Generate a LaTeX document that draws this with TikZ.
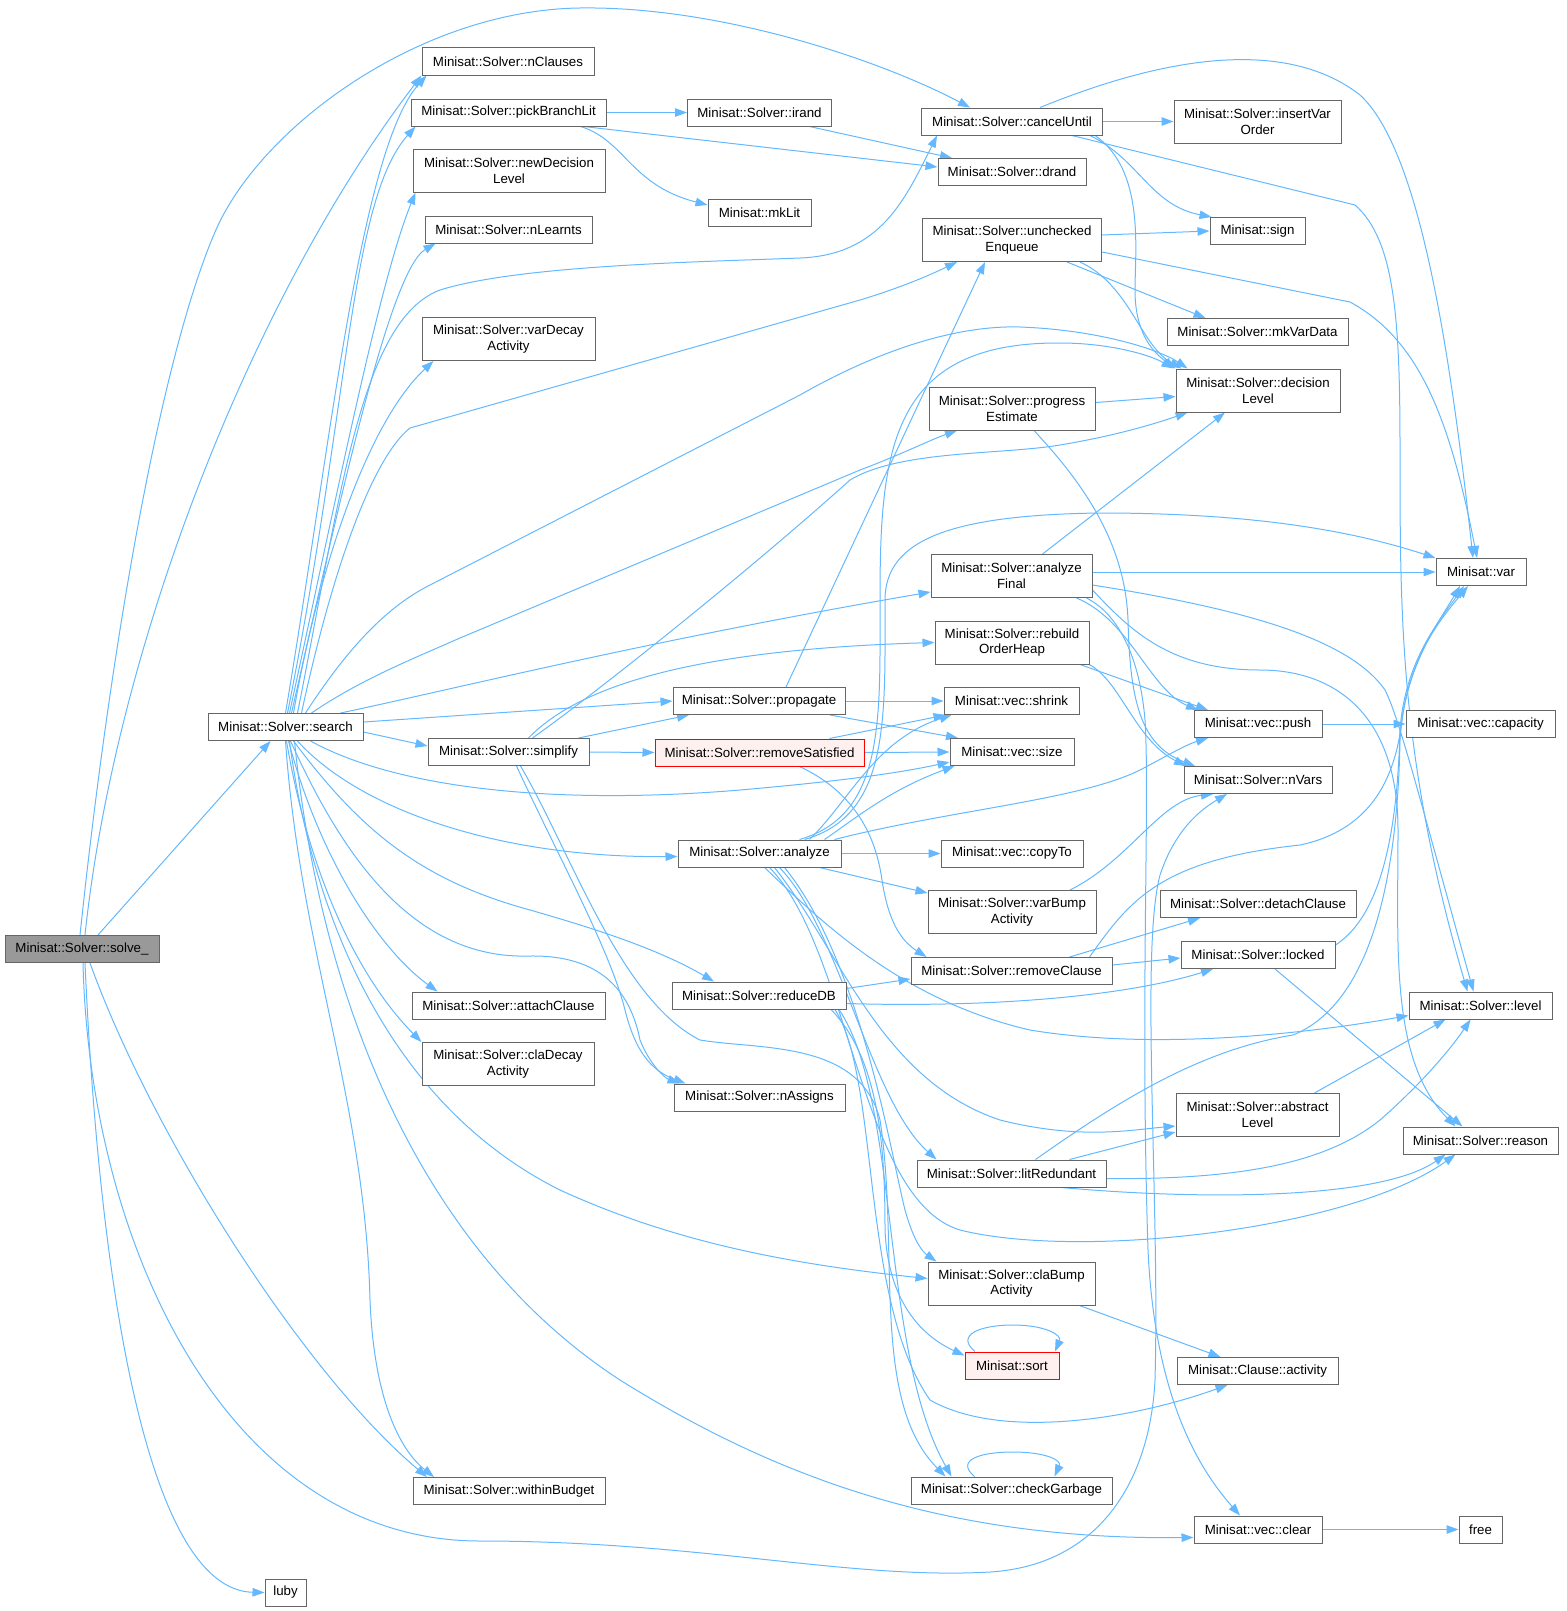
\documentclass[tikz,border=0pt]{standalone}
\usepackage{fontspec}
\setmainfont{Liberation Sans}
\usetikzlibrary{arrows.meta, backgrounds}

\definecolor{callblue}{HTML}{63B8FF}
\definecolor{boxgray}{HTML}{666666}
\definecolor{rootgray}{HTML}{999999}
\definecolor{hiddenred}{HTML}{FF0000}
\definecolor{hiddenfill}{HTML}{FFF0F0}

\begin{document}
\begin{tikzpicture}[x=1pt, y=-1pt,
    fn/.style={draw=boxgray, fill=white, line width=1pt, inner sep=0pt,
        minimum height=27pt, minimum width=#1pt, align=center,
        font=\fontsize{13.3}{15.6}\selectfont},
    fn2/.style={fn=#1, minimum height=43pt},
    root/.style={fn=#1, fill=rootgray},
    trunc/.style={fn=#1, draw=hiddenred, fill=hiddenfill},
    call/.style={draw=callblue, line width=1pt, -{Triangle[length=12pt, width=8.5pt]}}]

        \useasboundingbox (0,0) rectangle (1566,1611);

        % ROOT
        \node[root=154] (SOLVE) at (82,949) {Minisat::Solver::solve\_};
        \node[fn=155] (SEARCH) at (285.5,727) {Minisat::Solver::search};
        \node[fn=41] (LUBY) at (285.5,1592.5) {luby};

        % COLUMN 2
        \node[fn=172] (NCLAUSES) at (508,61.5) {Minisat::Solver::nClauses};
        \node[fn=195] (PICK) at (508.5,112.5) {Minisat::Solver::pickBranchLit};
        \node[fn2=192] (NEWDL) at (509,170.5) {Minisat::Solver::newDecision\\Level};
        \node[fn=167] (NLEARNTS) at (508.5,229.5) {Minisat::Solver::nLearnts};
        \node[fn2=173] (VARDECAY) at (508.5,339) {Minisat::Solver::varDecay\\Activity};
        \node[fn=161] (SIMPLIFY) at (508.5,752) {Minisat::Solver::simplify};
        \node[fn=193] (ATTACH) at (508.5,1005.5) {Minisat::Solver::attachClause};
        \node[fn2=172] (CLADECAY) at (508,1064) {Minisat::Solver::claDecay\\Activity};
        \node[fn=192] (BUDGET) at (509,1491) {Minisat::Solver::withinBudget};

        % COLUMN 3
        \node[fn=144] (IRAND) at (759.5,112.5) {Minisat::Solver::irand};
        \node[fn=103] (MKLIT) at (759.5,213) {Minisat::mkLit};
        \node[fn=172] (PROPAGATE) at (759,701) {Minisat::Solver::propagate};
        \node[trunc=209] (REMSAT) at (759.5,752.5) {Minisat::Solver::removeSatisfied};
        \node[fn=163] (ANALYZE) at (759.5,853.5) {Minisat::Solver::analyze};
        \node[fn=174] (REDUCEDB) at (759,995.5) {Minisat::Solver::reduceDB};
        \node[fn=171] (NASSIGNS) at (759.5,1097.5) {Minisat::Solver::nAssigns};

        % COLUMN 4
        \node[fn=181] (CANCEL) at (1012,121.5) {Minisat::Solver::cancelUntil};
        \node[fn=148] (DRAND) at (1012,172) {Minisat::Solver::drand};
        \node[fn2=179] (UNCHECKED) at (1012,240) {Minisat::Solver::unchecked\\Enqueue};
        \node[fn2=166] (PROGRESS) at (1012,408.5) {Minisat::Solver::progress\\Estimate};
        \node[fn2=161] (ANAFINAL) at (1011.5,576) {Minisat::Solver::analyze\\Final};
        \node[fn2=154] (REBUILD) at (1012,642.5) {Minisat::Solver::rebuild\\OrderHeap};
        \node[fn=135] (SHRINK) at (1011.5,701) {Minisat::vec::shrink};
        \node[fn=124] (SIZE) at (1012,752) {Minisat::vec::size};
        \node[fn=142] (COPYTO) at (1012,853.5) {Minisat::vec::copyTo};
        \node[fn2=168] (VARBUMP) at (1012,912) {Minisat::Solver::varBump\\Activity};
        \node[fn=201] (REMCLAUSE) at (1011.5,971) {Minisat::Solver::removeClause};
        \node[fn=189] (LITRED) at (1011.5,1173.5) {Minisat::Solver::litRedundant};
        \node[fn2=167] (CLABUMP) at (1011.5,1283.5) {Minisat::Solver::claBump\\Activity};
        \node[trunc=94] (SORT) at (1012,1365.5) {Minisat::sort};
        \node[fn=201] (CHECKGB) at (1011.5,1490.5) {Minisat::Solver::checkGarbage};

        % COLUMN 5
        \node[fn2=167] (INSERTVO) at (1257.5,121.5) {Minisat::Solver::insertVar\\Order};
        \node[fn=95] (SIGN) at (1257.5,231) {Minisat::sign};
        \node[fn=181] (MKVARDATA) at (1257.5,332) {Minisat::Solver::mkVarData};
        \node[fn2=164] (DECLEVEL) at (1258,390.5) {Minisat::Solver::decision\\Level};
        \node[fn=128] (PUSH) at (1258,724) {Minisat::vec::push};
        \node[fn=148] (NVARS) at (1258,780) {Minisat::Solver::nVars};
        \node[fn=196] (DETACH) at (1258,904) {Minisat::Solver::detachClause};
        \node[fn=154] (LOCKED) at (1258,955) {Minisat::Solver::locked};
        \node[fn2=163] (ABSLEVEL) at (1257.5,1115) {Minisat::Solver::abstract\\Level};
        \node[fn=161] (ACTIVITY) at (1257.5,1371) {Minisat::Clause::activity};
        \node[fn=128] (CLEAR) at (1258,1529.5) {Minisat::vec::clear};

        % COLUMN 6
        \node[fn=90] (VAR) at (1481,572) {Minisat::var};
        \node[fn=149] (CAPACITY) at (1480.5,724) {Minisat::vec::capacity};
        \node[fn=143] (LEVEL) at (1480.5,1005.5) {Minisat::Solver::level};
        \node[fn=155] (REASON) at (1480.5,1140.5) {Minisat::Solver::reason};
        \node[fn=43] (FREE) at (1480.5,1529.5) {free};

        \begin{scope}[on background layer]

        % SOLVE_
        \draw[call] ([xshift=16pt]SOLVE.north) -- ([xshift=-15pt]SEARCH.south);
        \draw[call] ([xshift=3pt]SOLVE.north) .. controls (115,650) and (250,300) .. (NCLAUSES.south west);
        \draw[call] ([xshift=-2pt]SOLVE.north) .. controls (110,650) and (160,360) .. (215,232)
            .. controls (260,127) and (420,10) .. (580,8) .. controls (720,6) and (880,60) .. ([xshift=-42pt]CANCEL.north);
        \draw[call] ([xshift=8pt]SOLVE.south) .. controls (150,1130) and (300,1370) .. ([xshift=-82pt]BUDGET.north);
        \draw[call] ([xshift=3pt]SOLVE.south) .. controls (100,1300) and (150,1590) .. (LUBY.west);
        \draw[call] ([xshift=1pt]SOLVE.south) .. controls (90,1250) and (230,1541) .. (480,1541)
            .. controls (700,1541) and (850,1580) .. (990,1572) .. controls (1100,1565) and (1150,1480) .. (1155,1380)
            .. controls (1160,1200) and (1140,950) .. (1160,875) .. controls (1175,830) and (1200,810) .. ([xshift=-31pt]NVARS.south);

        % SEARCH
        \draw[call] (SEARCH.north) .. controls (330,450) and (360,150) .. ([xshift=5pt]NCLAUSES.south west);
        \draw[call] ([xshift=2pt]SEARCH.north) .. controls (350,400) and (350,200) .. ([xshift=5pt]PICK.south west);
        \draw[call] ([xshift=4pt]SEARCH.north) .. controls (340,480) and (380,280) .. ([xshift=3pt]NEWDL.south west);
        \draw[call] ([xshift=6pt]SEARCH.north) .. controls (340,500) and (390,270) .. ([xshift=11pt]NLEARNTS.south west);
        \draw[call] ([xshift=8pt]SEARCH.north) .. controls (320,560) and (370,420) .. ([xshift=12pt]VARDECAY.south west);
        \draw[call] ([xshift=12pt]SEARCH.north) .. controls (340,500) and (360,320) .. (440,290)
            .. controls (520,265) and (700,262) .. (800,258) .. controls (880,255) and (905,200) .. ([xshift=-75pt]CANCEL.south);
        \draw[call] ([xshift=16pt]SEARCH.north) .. controls (330,580) and (370,460) .. (410,428) -- (860,300)
            .. controls (900,288) and (930,275) .. ([xshift=-55pt]UNCHECKED.south);
        \draw[call] ([xshift=20pt]SEARCH.north) .. controls (340,660) and (380,610) .. (430,585) -- (800,395)
            .. controls (870,355) and (950,325) .. (1020,327) .. controls (1100,330) and (1160,350) .. ([xshift=12pt]DECLEVEL.north west);
        \draw[call] ([xshift=26pt]SEARCH.north) .. controls (360,680) and (410,660) .. (460,638) -- (860,470)
            .. controls (900,455) and (930,440) .. ([xshift=-55pt]PROGRESS.south);
        \draw[call] ([xshift=55pt]SEARCH.north) .. controls (450,690) and (650,640) .. ([yshift=-16pt]ANAFINAL.west);
        \draw[call] ([yshift=5pt]SEARCH.east) -- (PROPAGATE.west);
        \draw[call] ([yshift=-5pt]SEARCH.east) -- ([yshift=6pt]SIMPLIFY.west);
        \draw[call] ([xshift=25pt]SEARCH.south) .. controls (400,790) and (560,805) .. (740,790)
            .. controls (820,783) and (890,775) .. ([yshift=-10pt]SIZE.west);
        \draw[call] ([xshift=12pt]SEARCH.south) .. controls (360,810) and (500,858) .. ([yshift=-3pt]ANALYZE.west);
        \draw[call] ([xshift=8pt]SEARCH.south) .. controls (360,830) and (420,880) .. (530,910)
            .. controls (600,930) and (660,950) .. ([xshift=-45pt]REDUCEDB.north);
        \draw[call] ([xshift=5pt]SEARCH.south) .. controls (340,850) and (410,960) .. (530,956)
            .. controls (600,955) and (630,990) .. (640,1040) .. controls (650,1065) and (665,1078) .. ([xshift=-80pt]NASSIGNS.north);
        \draw[call] ([xshift=3pt]SEARCH.south) .. controls (320,860) and (380,950) .. ([xshift=-71pt]ATTACH.north);
        \draw[call] ([xshift=1pt]SEARCH.south) .. controls (310,880) and (360,980) .. (CLADECAY.north west);
        \draw[call] (SEARCH.south) .. controls (300,950) and (365,1100) .. (370,1300)
            .. controls (374,1400) and (400,1450) .. ([xshift=-75pt]BUDGET.north);
        \draw[call] ([xshift=4pt]SEARCH.south) .. controls (310,900) and (380,1100) .. (560,1190)
            .. controls (680,1245) and (800,1265) .. ([yshift=5pt]CLABUMP.west);
        \draw[call] ([xshift=9pt]SEARCH.south) .. controls (320,1000) and (420,1250) .. (620,1380)
            .. controls (780,1480) and (950,1540) .. ([yshift=-8pt]CLEAR.west);

        % PICKBRANCHLIT, IRAND
        \draw[call] (PICK.east) -- (IRAND.west);
        \draw[call] ([xshift=75pt]PICK.south) -- ([yshift=5pt]DRAND.west);
        \draw[call] ([xshift=72pt]PICK.south) .. controls (625,140) and (630,185) .. ([yshift=8pt]MKLIT.west);
        \draw[call] ([xshift=50pt]IRAND.south) -- ([xshift=-60pt]DRAND.north);

        % CANCELUNTIL
        \draw[call] (CANCEL.east) -- (INSERTVO.west);
        \draw[call] ([xshift=28pt]CANCEL.north) .. controls (1120,75) and (1270,25) .. (1360,95)
            .. controls (1420,150) and (1450,350) .. ([xshift=-8pt]VAR.north);
        \draw[call] ([xshift=78pt]CANCEL.south) .. controls (1140,160) and (1150,205) .. ([xshift=2pt]SIGN.north west);
        \draw[call] ([xshift=83pt]CANCEL.south) .. controls (1145,170) and (1135,250) .. (1135,290)
            .. controls (1135,330) and (1150,350) .. (DECLEVEL.north west);
        \draw[call] ([xshift=60pt]CANCEL.south) -- (1355,205) .. controls (1395,240) and (1400,320) .. (1400,450)
            .. controls (1400,620) and (1400,760) .. ([xshift=-13pt]LEVEL.north);

        % UNCHECKEDENQUEUE
        \draw[call] ([yshift=5pt]UNCHECKED.east) -- (SIGN.west);
        \draw[call] ([yshift=-12pt]UNCHECKED.east) -- (1350,302) .. controls (1420,340) and (1450,420) .. ([xshift=-4pt]VAR.north);
        \draw[call] ([xshift=55pt]UNCHECKED.south) -- ([xshift=-52pt]MKVARDATA.north);
        \draw[call] ([xshift=68pt]UNCHECKED.south) .. controls (1130,285) and (1140,345) .. ([xshift=6pt]DECLEVEL.north west);

        % PROGRESSESTIMATE
        \draw[call] ([yshift=6pt]PROGRESS.east) -- ([yshift=-6pt]DECLEVEL.west);
        \draw[call] ([xshift=22pt]PROGRESS.south) .. controls (1080,480) and (1125,540) .. (1128,620)
            .. controls (1130,700) and (1140,745) .. ([xshift=-63pt]NVARS.north);

        % ANALYZEFINAL
        \draw[call] ([xshift=31pt]ANAFINAL.north) -- ([xshift=-33pt]DECLEVEL.south);
        \draw[call] ([yshift=4pt]ANAFINAL.east) -- (VAR.west);
        \draw[call] ([yshift=-9pt]ANAFINAL.east) .. controls (1250,610) and (1350,640) .. (1385,690)
            .. controls (1400,720) and (1420,800) .. ([xshift=-7pt]LEVEL.north);
        \draw[call] ([yshift=-14pt]ANAFINAL.east) .. controls (1130,630) and (1170,670) .. (1260,670)
            .. controls (1340,670) and (1398,720) .. (1398,830) .. controls (1398,950) and (1390,1060) .. ([xshift=-25pt]REASON.north);
        \draw[call] ([xshift=65pt]ANAFINAL.south) .. controls (1130,620) and (1150,690) .. ([xshift=-60pt]PUSH.north);
        \draw[call] ([xshift=75pt]ANAFINAL.south) .. controls (1120,615) and (1140,660) .. (1145,720)
            .. controls (1150,800) and (1140,1000) .. (1148,1250) .. controls (1155,1400) and (1200,1470) .. ([xshift=-18pt]CLEAR.north);

        % REBUILDORDERHEAP
        \draw[call] ([xshift=68pt]REBUILD.south) -- ([xshift=-50pt]PUSH.north);
        \draw[call] ([xshift=77pt]REBUILD.south) .. controls (1120,680) and (1135,740) .. ([xshift=-72pt]NVARS.north);

        % PROPAGATE
        \draw[call] ([xshift=27pt]PROPAGATE.north) -- ([xshift=-27pt]UNCHECKED.south);
        \draw[call] (PROPAGATE.east) -- (SHRINK.west);
        \draw[call] ([xshift=71pt]PROPAGATE.south) -- ([xshift=-54pt]SIZE.north);

        % REMOVESATISFIED
        \draw[call] (REMSAT.east) -- (SIZE.west);
        \draw[call] ([xshift=70pt]REMSAT.north) -- ([xshift=2pt]SHRINK.south west);
        \draw[call] ([xshift=40pt]REMSAT.south) .. controls (850,790) and (875,830) .. (882,880)
            .. controls (888,920) and (900,940) .. ([xshift=-85pt]REMCLAUSE.north);

        % ANALYZE
        \draw[call] (ANALYZE.east) -- (COPYTO.west);
        \draw[call] ([xshift=60pt]ANALYZE.south) -- ([yshift=-3pt]VARBUMP.north west);
        \draw[call] ([xshift=75pt]ANALYZE.north) .. controls (950,810) and (1080,800) .. (1140,770)
            .. controls (1165,757) and (1185,745) .. ([xshift=-50pt]PUSH.south);
        \draw[call] ([xshift=65pt]ANALYZE.north) .. controls (860,815) and (890,790) .. ([xshift=5pt]SIZE.south west);
        \draw[call] ([xshift=50pt]ANALYZE.north) .. controls (850,800) and (875,740) .. ([xshift=8pt]SHRINK.south west);
        \draw[call] ([xshift=40pt]ANALYZE.north) .. controls (885,815) and (880,720) .. (880,600)
            .. controls (880,450) and (890,342) .. (1060,343) .. controls (1110,343) and (1150,355) .. ([xshift=-2pt]DECLEVEL.north west);
        \draw[call] ([xshift=45pt]ANALYZE.north) .. controls (890,815) and (885,720) .. (885,600)
            .. controls (885,540) and (950,515) .. (1100,513) .. controls (1250,513) and (1350,530) .. (VAR.north west);
        \draw[call] ([xshift=5pt]ANALYZE.south) .. controls (820,920) and (900,1000) .. (1030,1030)
            .. controls (1150,1050) and (1300,1035) .. ([yshift=-10pt]LEVEL.west);
        \draw[call] ([xshift=10pt]ANALYZE.south) .. controls (850,950) and (860,1200) .. (960,1230)
            .. controls (1080,1260) and (1350,1230) .. ([xshift=-25pt]REASON.south);
        \draw[call] ([xshift=15pt]ANALYZE.south) .. controls (840,950) and (880,1080) .. (1000,1120)
            .. controls (1080,1140) and (1130,1130) .. ([yshift=-11pt]ABSLEVEL.west);
        \draw[call] ([xshift=20pt]ANALYZE.south) .. controls (840,930) and (870,1100) .. ([xshift=-75pt]LITRED.north);
        \draw[call] ([xshift=25pt]ANALYZE.south) .. controls (860,960) and (890,1150) .. (905,1210)
            .. controls (912,1235) and (920,1250) .. ([xshift=-75pt]CLABUMP.north);

        % REDUCEDB
        \draw[call] ([yshift=7pt]REDUCEDB.east) -- ([yshift=-8pt]REMCLAUSE.west);
        \draw[call] ([yshift=-8pt]REDUCEDB.east) .. controls (1000,1008) and (1130,995) .. ([xshift=-45pt]LOCKED.south);
        \draw[call] ([xshift=72pt]REDUCEDB.south) .. controls (880,1060) and (885,1150) .. (885,1230)
            .. controls (888,1300) and (920,1335) .. ([yshift=-4pt]SORT.north west);
        \draw[call] ([xshift=76pt]REDUCEDB.south) .. controls (880,1080) and (860,1300) .. (930,1400)
            .. controls (1000,1440) and (1130,1420) .. ([xshift=-30pt]ACTIVITY.south);
        \draw[call] ([xshift=80pt]REDUCEDB.south) .. controls (900,1100) and (880,1350) .. ([xshift=-60pt]CHECKGB.north);

        % SIMPLIFY
        \draw[call] ([xshift=70pt]SIMPLIFY.north) -- ([xshift=-70pt]PROPAGATE.south);
        \draw[call] (SIMPLIFY.east) -- (REMSAT.west);
        \draw[call] ([xshift=20pt]SIMPLIFY.north) .. controls (575,690) and (680,650) .. (REBUILD.west);
        \draw[call] ([xshift=24pt]SIMPLIFY.north) .. controls (600,690) and (750,570) .. (850,480)
            .. controls (900,450) and (1000,455) .. (1060,445) .. controls (1120,435) and (1160,422) .. ([xshift=12pt]DECLEVEL.south west);
        \draw[call] ([xshift=8pt]SIMPLIFY.south) .. controls (560,860) and (610,950) .. (625,1010)
            .. controls (635,1050) and (650,1070) .. ([xshift=-74pt]NASSIGNS.north);
        \draw[call] ([xshift=12pt]SIMPLIFY.south) .. controls (570,850) and (620,1000) .. (700,1040)
            .. controls (760,1050) and (860,1040) .. (880,1120) .. controls (900,1250) and (870,1400) .. ([xshift=-66pt]CHECKGB.north);

        % VARBUMP, REMOVECLAUSE, LOCKED
        \draw[call] ([xshift=58pt]VARBUMP.north) .. controls (1130,860) and (1160,800) .. ([xshift=-45pt]NVARS.south);
        \draw[call] ([xshift=58pt]REMCLAUSE.north) -- ([xshift=-58pt]DETACH.south);
        \draw[call] ([yshift=6pt]REMCLAUSE.east) -- ([yshift=-3pt]LOCKED.west);
        \draw[call] ([xshift=78pt]REMCLAUSE.north) .. controls (1130,900) and (1160,860) .. (1300,845)
            .. controls (1370,830) and (1395,780) .. (1402,720) .. controls (1410,660) and (1440,620) .. ([xshift=-21pt]VAR.south);
        \draw[call] ([yshift=10pt]LOCKED.east) .. controls (1390,910) and (1398,800) .. (1400,730)
            .. controls (1405,660) and (1440,620) .. ([xshift=-17pt]VAR.south);
        \draw[call] ([xshift=17pt]LOCKED.south) -- ([xshift=-18pt]REASON.north);

        % LITREDUNDANT, ABSTRACTLEVEL
        \draw[call] ([xshift=58pt]LITRED.north) -- ([yshift=-17pt]ABSLEVEL.west);
        \draw[call] ([xshift=24pt]LITRED.north) .. controls (1120,1100) and (1200,1050) .. (1293,1035)
            .. controls (1380,1000) and (1398,850) .. (1400,740) .. controls (1405,660) and (1440,620) .. ([xshift=-13pt]VAR.south);
        \draw[call] ([yshift=-5pt]LITRED.east) .. controls (1250,1180) and (1330,1160) .. (1380,1120)
            .. controls (1420,1085) and (1450,1050) .. ([xshift=-10pt]LEVEL.south);
        \draw[call] ([xshift=50pt]LITRED.south) .. controls (1200,1200) and (1380,1200) .. ([xshift=-35pt]REASON.south);
        \draw[call] ([xshift=57pt]ABSLEVEL.north) -- ([xshift=-35pt]LEVEL.south);

        % LEAVES
        \draw[call] ([xshift=68pt]CLABUMP.south) -- ([xshift=-37pt]ACTIVITY.north);
        \draw[call] (PUSH.east) -- (CAPACITY.west);
        \draw[call] (CLEAR.east) -- (FREE.west);

        % RECURSION
        \draw[call] ([xshift=-37pt]SORT.north) .. controls (955,1335) and (980,1325) .. (1013,1325)
            .. controls (1045,1325) and (1062,1335) .. ([xshift=43pt]SORT.north);
        \draw[call] ([xshift=-37pt]CHECKGB.north) .. controls (955,1460) and (980,1452) .. (1013,1452)
            .. controls (1045,1452) and (1062,1460) .. ([xshift=43pt]CHECKGB.north);

        \end{scope}

    \end{tikzpicture}
\end{document}
